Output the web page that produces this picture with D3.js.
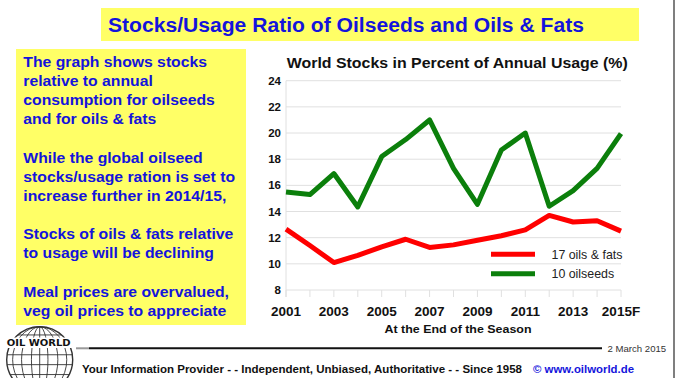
<!DOCTYPE html>
<html>
<head>
<meta charset="utf-8">
<script src="https://cdn.jsdelivr.net/npm/d3@7"></script>
<style>
  html, body { margin: 0; padding: 0; background: #fff; }
  svg { display: block; font-family: "Liberation Sans", Arial, sans-serif; }
</style>
</head>
<body>
<script>
// values (percent of annual usage, end of season)
var years = ["2001", "2002", "2003", "2004", "2005", "2006", "2007", "2008",
             "2009", "2010", "2011", "2012", "2013", "2014", "2015F"];
var yearLabels = ["2001", "2003", "2005", "2007", "2009", "2011", "2013", "2015F"];
var oilsFats = [12.65, 11.4, 10.1, 10.65, 11.3, 11.88, 11.25, 11.45, 11.8, 12.15, 12.6, 13.7, 13.2, 13.3, 12.5];
var oilseeds = [15.5, 15.3, 16.9, 14.35, 18.2, 19.5, 21.0, 17.3, 14.55, 18.7, 20.0, 14.4, 15.6, 17.3, 19.95];
var yTicks = [8, 10, 12, 14, 16, 18, 20, 22, 24];
var seriesNames = ["17 oils & fats", "10 oilseeds"];
var seriesColors = ["#ff0000", "#0b7f0b"];

var notes = [
  ["The graph shows stocks", "relative to annual", "consumption for oilseeds", "and for oils & fats"],
  ["While the global oilseed", "stocks/usage ration is set to", "increase further in 2014/15,"],
  ["Stocks of oils & fats relative", "to usage will be declining"],
  ["Meal prices are overvalued,", "veg oil prices to appreciate"]
];

var W = 677, H = 378;
var blue = "#1414dc";
var sx = 1.087; // the original slide is a bit wider than tall

var svg = d3.select("body").append("svg")
  .attr("width", W)
  .attr("height", H);

// header
svg.append("rect")
  .attr("x", 101).attr("y", 8).attr("width", 538).attr("height", 33)
  .attr("fill", "#ffff66");
svg.append("text")
  .attr("x", 108).attr("y", 32)
  .attr("fill", blue)
  .attr("font-size", 21.1)
  .attr("font-weight", "bold")
  .text("Stocks/Usage Ratio of Oilseeds and Oils & Fats");

// right border
svg.append("line")
  .attr("x1", 674).attr("x2", 674).attr("y1", 0).attr("y2", H)
  .attr("stroke", "#555").attr("stroke-width", 1.5);

// left notes box
svg.append("rect")
  .attr("x", 16).attr("y", 49).attr("width", 230).attr("height", 276)
  .attr("fill", "#ffff66");

var noteStarts = [67.3, 162.7, 239.3, 296.7];
var notesG = svg.append("g")
  .attr("transform", "translate(23.3,0) scale(" + sx + ",1)")
  .attr("fill", blue)
  .attr("font-size", 14.5)
  .attr("font-weight", "bold");
notes.forEach(function (para, i){
  notesG.selectAll(null).data(para).enter().append("text")
    .attr("x", 0)
    .attr("y", function (d, j){ return noteStarts[i] + j * 19; })
    .text(function (d){ return d; });
});

// chart
var margin = { left: 286, right: W - 621, top: 80.7, bottom: H - 290 };
var x = d3.scalePoint().domain(years).range([margin.left, W - margin.right]);
var y = d3.scaleLinear().domain([8, 24]).range([H - margin.bottom, margin.top]);

svg.append("text")
  .attr("x", 457.3).attr("y", 67.5)
  .attr("text-anchor", "middle")
  .attr("font-size", 14.6)
  .attr("font-weight", "bold")
  .attr("fill", "#111")
  .attr("textLength", 341)
  .attr("lengthAdjust", "spacingAndGlyphs")
  .text("World Stocks in Percent of Annual Usage (%)");

var grid = svg.append("g").attr("stroke", "#e0e0e0").attr("stroke-width", 1);
grid.selectAll("line.h").data(yTicks).enter().append("line")
  .attr("class", "h")
  .attr("x1", margin.left).attr("x2", W - margin.right)
  .attr("y1", function (d){ return y(d); })
  .attr("y2", function (d){ return y(d); });
grid.append("line")
  .attr("x1", margin.left).attr("x2", margin.left)
  .attr("y1", y(24)).attr("y2", y(8) + 7);
grid.selectAll("line.t").data(years).enter().append("line")
  .attr("class", "t")
  .attr("x1", function (d){ return x(d); })
  .attr("x2", function (d){ return x(d); })
  .attr("y1", y(8)).attr("y2", y(8) + 7);

svg.append("g").selectAll("text").data(yTicks).enter().append("text")
  .attr("x", 281)
  .attr("y", function (d){ return y(d) + 4; })
  .attr("text-anchor", "end")
  .attr("font-size", 11.5)
  .attr("font-weight", "bold")
  .attr("fill", "#111")
  .text(function (d){ return d; });

svg.append("g").selectAll("text").data(yearLabels).enter().append("text")
  .attr("x", function (d){ return x(d); })
  .attr("y", 316)
  .attr("text-anchor", "middle")
  .attr("font-size", 13.5)
  .attr("font-weight", "bold")
  .attr("fill", "#111")
  .text(function (d){ return d; });

svg.append("text")
  .attr("x", 458).attr("y", 332.5)
  .attr("text-anchor", "middle")
  .attr("font-size", 11.5)
  .attr("font-weight", "bold")
  .attr("fill", "#111")
  .attr("textLength", 147)
  .attr("lengthAdjust", "spacingAndGlyphs")
  .text("At the End of the Season");

var line = d3.line()
  .x(function (d, i){ return x(years[i]); })
  .y(function (d){ return y(d); });

[oilseeds, oilsFats].forEach(function (s, k){
  svg.append("path")
    .datum(s)
    .attr("d", line)
    .attr("fill", "none")
    .attr("stroke", seriesColors[1 - k])
    .attr("stroke-width", 5)
    .attr("stroke-linejoin", "round");
});

// legend
var legend = svg.append("g").selectAll("g").data(seriesNames).enter().append("g")
  .attr("transform", function (d, i){ return "translate(491," + (254.3 + i * 19.4) + ")"; });
legend.append("line")
  .attr("x1", 0).attr("x2", 44)
  .attr("stroke", function (d, i){ return seriesColors[i]; })
  .attr("stroke-width", 5);
legend.append("text")
  .attr("x", 60.5).attr("y", 4.3)
  .attr("font-size", 12.4)
  .attr("fill", "#222")
  .text(function (d){ return d; });

// footer rule + date
svg.append("line")
  .attr("x1", 76).attr("x2", 89).attr("y1", 348.3).attr("y2", 348.3)
  .attr("stroke", "#999").attr("stroke-width", 2);
svg.append("line")
  .attr("x1", 89).attr("x2", 602).attr("y1", 348.3).attr("y2", 348.3)
  .attr("stroke", "#111").attr("stroke-width", 2);
svg.append("text")
  .attr("x", 607.5).attr("y", 351.8)
  .attr("font-size", 9.6)
  .attr("fill", "#333")
  .text("2 March 2015");

svg.append("text")
  .attr("x", 82).attr("y", 372.5)
  .attr("font-size", 11.4)
  .attr("font-weight", "bold")
  .attr("fill", "#111")
  .attr("textLength", 440)
  .attr("lengthAdjust", "spacingAndGlyphs")
  .text("Your Information Provider - - Independent, Unbiased, Authoritative - - Since 1958");
svg.append("text")
  .attr("x", 533).attr("y", 372.5)
  .attr("font-size", 11.4)
  .attr("font-weight", "bold")
  .attr("fill", blue)
  .text("\u00a9 www.oilworld.de");

// globe logo
var globe = svg.append("g")
  .attr("fill", "none")
  .attr("stroke", "#333")
  .attr("stroke-width", 0.9);
var cx = 39.7, cy = 359.7, r = 33;
globe.append("circle").attr("cx", cx).attr("cy", cy).attr("r", r).attr("stroke-width", 1.4);
[0.25, 0.55, 0.82].forEach(function (f){
  globe.append("ellipse").attr("cx", cx).attr("cy", cy).attr("rx", r * f).attr("ry", r);
});
globe.append("line").attr("x1", cx).attr("x2", cx).attr("y1", cy - r).attr("y2", cy + r);
[-0.75, -0.45, -0.15, 0.15, 0.45, 0.75].forEach(function (f){
  var yy = cy + r * f;
  var half = Math.sqrt(r * r - (r * f) * (r * f));
  globe.append("line").attr("x1", cx - half).attr("x2", cx + half).attr("y1", yy).attr("y2", yy);
});
svg.append("rect")
  .attr("x", 5).attr("y", 337.5).attr("width", 68).attr("height", 10.5)
  .attr("fill", "#fff");
svg.append("text")
  .attr("x", 6.7).attr("y", 346)
  .attr("font-family", "'DejaVu Sans', sans-serif")
  .attr("font-size", 9)
  .attr("font-weight", "bold")
  .attr("fill", "#111")
  .attr("textLength", 64)
  .attr("lengthAdjust", "spacingAndGlyphs")
  .text("OIL WORLD");
</script>
</body>
</html>
